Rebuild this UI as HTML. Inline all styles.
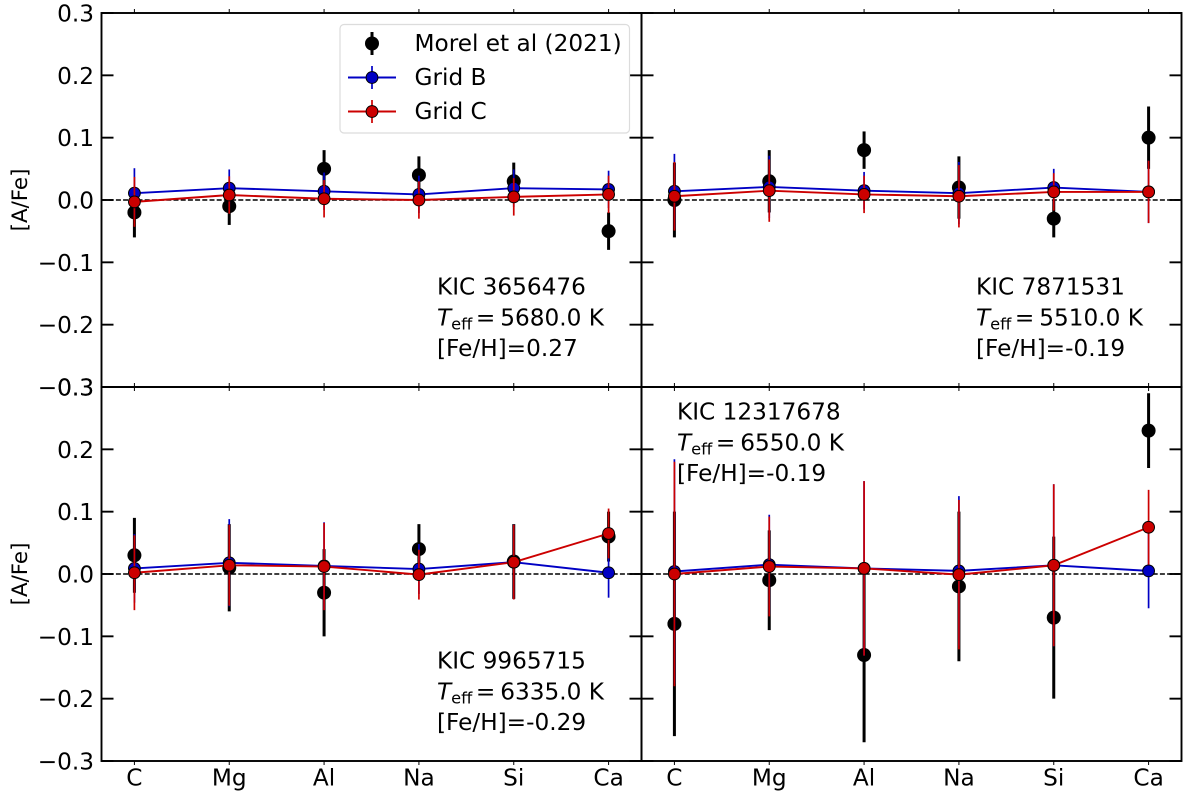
<!DOCTYPE html>
<html lang="en">
<head>
<meta charset="utf-8">
<title>Abundance ratios for four KIC stars</title>
<style>
html,body{margin:0;padding:0;background:#fff;}
svg{display:block;}
text{font-family:"DejaVu Sans","Liberation Sans",sans-serif;fill:#000;}
</style>
</head>
<body>
<svg id="chart" xmlns="http://www.w3.org/2000/svg" width="1200" height="800" viewBox="0 0 1200 800"></svg>
<script>
const categories = ['C', 'Mg', 'Al', 'Na', 'Si', 'Ca'];
const yTicks = [-0.3, -0.2, -0.1, 0, 0.1, 0.2, 0.3];
const yTickLabels = ['\u22120.3', '\u22120.2', '\u22120.1', '0.0', '0.1', '0.2', '0.3'];

const star1Morel = [-0.02, -0.01, 0.05, 0.04, 0.03, -0.05];
const star1MorelErr = [0.04, 0.03, 0.03, 0.03, 0.03, 0.03];
const star1GridB = [0.011, 0.019, 0.014, 0.009, 0.019, 0.017];
const star1GridBErr = [0.04, 0.03, 0.03, 0.03, 0.03, 0.03];
const star1GridC = [-0.003, 0.008, 0.002, 0, 0.005, 0.009];
const star1GridCErr = [0.04, 0.03, 0.03, 0.03, 0.03, 0.03];

const star2Morel = [0, 0.03, 0.08, 0.02, -0.03, 0.1];
const star2MorelErr = [0.06, 0.05, 0.03, 0.05, 0.03, 0.05];
const star2GridB = [0.014, 0.021, 0.015, 0.011, 0.02, 0.013];
const star2GridBErr = [0.06, 0.05, 0.03, 0.05, 0.03, 0.05];
const star2GridC = [0.006, 0.015, 0.009, 0.006, 0.013, 0.013];
const star2GridCErr = [0.055, 0.05, 0.03, 0.05, 0.03, 0.05];

const star3Morel = [0.03, 0.01, -0.03, 0.04, 0.02, 0.06];
const star3MorelErr = [0.06, 0.07, 0.07, 0.04, 0.06, 0.04];
const star3GridB = [0.009, 0.018, 0.013, 0.008, 0.019, 0.002];
const star3GridBErr = [0.055, 0.07, 0.07, 0.04, 0.06, 0.04];
const star3GridC = [0.002, 0.014, 0.012, -0.001, 0.019, 0.065];
const star3GridCErr = [0.06, 0.065, 0.07, 0.04, 0.06, 0.04];

const star4Morel = [-0.08, -0.01, -0.13, -0.02, -0.07, 0.23];
const star4MorelErr = [0.18, 0.08, 0.14, 0.12, 0.13, 0.06];
const star4GridB = [0.004, 0.015, 0.009, 0.005, 0.014, 0.005];
const star4GridBErr = [0.18, 0.08, 0.14, 0.12, 0.13, 0.06];
const star4GridC = [0, 0.012, 0.009, -0.001, 0.014, 0.075];
const star4GridCErr = [0.18, 0.08, 0.14, 0.12, 0.13, 0.06];

const starIds = ['KIC 3656476', 'KIC 7871531', 'KIC 9965715', 'KIC 12317678'];
const starTeffs = ['5680.0', '5510.0', '6335.0', '6550.0'];
const starFeH = ['0.27', '-0.19', '-0.29', '-0.19'];
const morelSets = [star1Morel, star2Morel, star3Morel, star4Morel];
const morelErrSets = [star1MorelErr, star2MorelErr, star3MorelErr, star4MorelErr];
const gridBSets = [star1GridB, star2GridB, star3GridB, star4GridB];
const gridBErrSets = [star1GridBErr, star2GridBErr, star3GridBErr, star4GridBErr];
const gridCSets = [star1GridC, star2GridC, star3GridC, star4GridC];
const gridCErrSets = [star1GridCErr, star2GridCErr, star3GridCErr, star4GridCErr];

const svgNS = 'http://www.w3.org/2000/svg';
const svg = document.getElementById('chart');
const BLUE = '#0000c4';
const RED = '#cc0000';
const FONT = 23.2;
const BLACK_R = 7;
const GRID_R = 5.9;
const boxes = [
  {l: 101.5, r: 641.5, t: 13, b: 387, left: true, bottom: false, note: [437, 294.3]},
  {l: 641.5, r: 1181.5, t: 13, b: 387, left: false, bottom: false, note: [976, 294.3]},
  {l: 101.5, r: 641.5, t: 387, b: 761, left: true, bottom: true, note: [437, 668.3]},
  {l: 641.5, r: 1181.5, t: 387, b: 761, left: false, bottom: true, note: [677, 419.3]}
];

function add(parent, tag, attrs) {
  const el = document.createElementNS(svgNS, tag);
  for (const k in attrs) el.setAttribute(k, attrs[k]);
  parent.appendChild(el);
  return el;
}
function xScale(i, box) {
  return box.l + (i + 0.347) * (box.r - box.l) / 5.694;
}
function yScale(v, box) {
  return box.b - (v + 0.3) * (box.b - box.t) / 0.6;
}

function drawSeries(group, box, values, errors, color, markerR, barWidth, hasLine, hasEdge) {
  values.forEach(function (v, i) {
    const bar = add(group, 'line', {x1: xScale(i, box), x2: xScale(i, box), y1: yScale(v - errors[i], box), y2: yScale(v + errors[i], box), stroke: color, 'stroke-width': barWidth});
    
    
  });
  if (hasLine) {
    const pts = values.map(function (v, i) { return xScale(i, box) + ',' + yScale(v, box); }).join(' ');
    const line = add(group, 'polyline', {points: pts, fill: 'none', stroke: color, 'stroke-width': 1.9});
    
    
  }
  values.forEach(function (v, i) {
    const pt = add(group, 'circle', {cx: xScale(i, box), cy: yScale(v, box), r: markerR, fill: color, stroke: hasEdge ? '#000' : 'none', 'stroke-width': 1});
    
    
  });
}

boxes.forEach(function (box, p) {
  const panel = add(svg, 'g', {});
  
  

  const zero = add(panel, 'line', {x1: box.l, x2: box.r, y1: yScale(0, box), y2: yScale(0, box), stroke: '#000', 'stroke-width': 1.5, 'stroke-dasharray': '5 2.2'});
  
  

  const morelGroup = add(panel, 'g', {});
  
  
  drawSeries(morelGroup, box, morelSets[p], morelErrSets[p], '#000', BLACK_R, 3, false, false);

  const gridBGroup = add(panel, 'g', {});
  
  
  drawSeries(gridBGroup, box, gridBSets[p], gridBErrSets[p], BLUE, GRID_R, 1.7, true, true);

  const gridCGroup = add(panel, 'g', {});
  
  
  drawSeries(gridCGroup, box, gridCSets[p], gridCErrSets[p], RED, GRID_R, 1.7, true, true);

  const frame = add(panel, 'rect', {x: box.l, y: box.t, width: box.r - box.l, height: box.b - box.t, fill: 'none', stroke: '#000', 'stroke-width': 1.9});
  
  

  yTicks.forEach(function (v, i) {
    const y = yScale(v, box);
    const tl = add(panel, 'line', {x1: box.l, x2: box.l + 12, y1: y, y2: y, stroke: '#000', 'stroke-width': 1.9});
    
    
    const tr = add(panel, 'line', {x1: box.r - 12, x2: box.r, y1: y, y2: y, stroke: '#000', 'stroke-width': 1.9});
    
    
    if (box.left) {
      const lab = add(panel, 'text', {x: box.l - 7.5, y: y + 8.5, 'text-anchor': 'end', 'font-size': FONT});
      
      
      lab.textContent = yTickLabels[i];
    }
  });

  categories.forEach(function (c, i) {
    const x = xScale(i, box);
    const top = add(panel, 'line', {x1: x, x2: x, y1: box.t - 4, y2: box.t, stroke: '#000', 'stroke-width': 1});
    
    
    const bot = add(panel, 'line', {x1: x, x2: x, y1: box.b, y2: box.b + 4, stroke: '#000', 'stroke-width': 1});
    
    
    if (box.bottom) {
      const lab = add(panel, 'text', {x: x, y: 785.3, 'text-anchor': 'middle', 'font-size': FONT});
      
      
      lab.textContent = c;
    }
  });

  if (box.left) {
    const cy = yScale(0, box);
    const title = add(panel, 'text', {x: 27, y: cy, 'text-anchor': 'middle', 'font-size': 21.4, transform: 'rotate(-90 27 ' + cy + ')'});
    
    
    title.textContent = '[A/Fe]';
  }

  const nx = box.note[0];
  const ny = box.note[1];
  const note = add(panel, 'g', {'font-size': FONT});
  
  
  const idText = add(note, 'text', {x: nx, y: ny});
  
  
  idText.textContent = starIds[p];
  const teffText = add(note, 'text', {x: nx, y: ny + 31});
  
  
  const t1 = add(teffText, 'tspan', {'font-style': 'italic'});
  t1.textContent = 'T';
  const t2 = add(teffText, 'tspan', {dy: 4, 'font-size': FONT * 0.7});
  t2.textContent = 'eff';
  const t3 = add(teffText, 'tspan', {dy: -4, dx: 3.5});
  t3.textContent = '=';
  const t4 = add(teffText, 'tspan', {dx: 5});
  t4.textContent = starTeffs[p] + ' K';
  const fehText = add(note, 'text', {x: nx, y: ny + 61.5});
  
  
  fehText.textContent = '[Fe/H]=' + starFeH[p];
});

const legend = add(svg, 'g', {});


const legendBox = add(legend, 'rect', {x: 340, y: 24.5, width: 289.5, height: 108.5, rx: 4, fill: '#fff', 'fill-opacity': 0.85, stroke: '#dcdcdc', 'stroke-width': 1.2});



const legendLabels = ['Morel et al (2021)', 'Grid B', 'Grid C'];
const legendColors = ['#000', BLUE, RED];
legendLabels.forEach(function (label, i) {
  const y = 43.5 + i * 34;
  const entry = add(legend, 'g', {});
  
  
  if (i > 0) {
    const seg = add(entry, 'line', {x1: 348, x2: 396, y1: y, y2: y, stroke: legendColors[i], 'stroke-width': 1.9});
    
    
  }
  const errBar = add(entry, 'line', {x1: 372, x2: 372, y1: y - 11.5, y2: y + 11.5, stroke: legendColors[i], 'stroke-width': i > 0 ? 1.7 : 3});
  
  
  const dot = add(entry, 'circle', {cx: 372, cy: y, r: i > 0 ? GRID_R : BLACK_R, fill: legendColors[i], stroke: i > 0 ? '#000' : 'none', 'stroke-width': 1});
  
  
  const txt = add(entry, 'text', {x: 414.5, y: y + 7.5, 'font-size': FONT});
  
  
  txt.textContent = label;
});
</script>
</body>
</html>
